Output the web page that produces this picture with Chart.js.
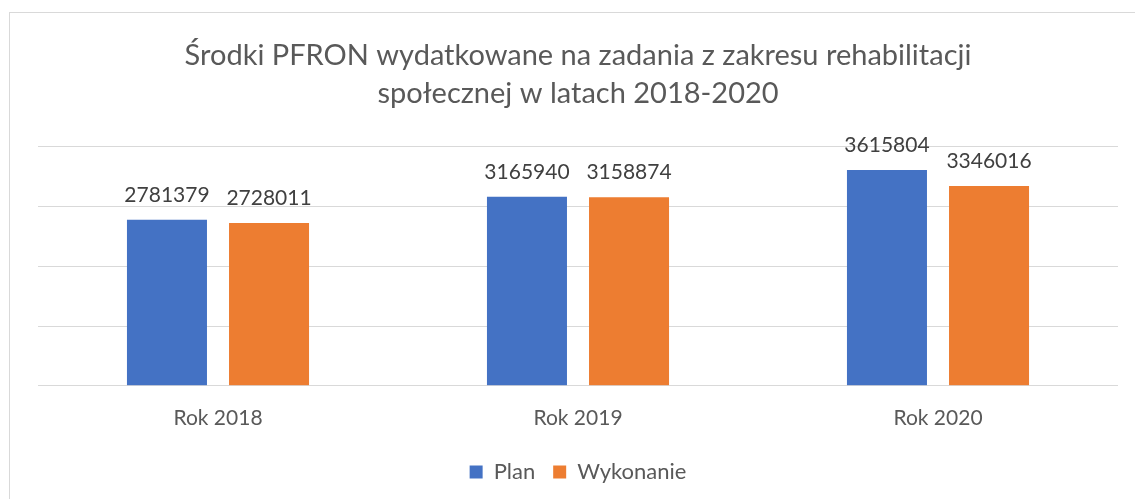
<!DOCTYPE html>
<html>
<head>
<meta charset="utf-8">
<script src="https://cdn.jsdelivr.net/npm/chart.js@4"></script>
<style>
  html, body { margin: 0; padding: 0; background: #fff; }
  #wrap { position: relative; width: 1135px; height: 499px; }
  #frame { position: absolute; left: 9px; top: 12px; width: 1140px; height: 500px; border-left: 1px solid #d9d9d9; border-top: 1px solid #d9d9d9; }
  canvas { position: absolute; left: 0; top: 0; }
</style>
</head>
<body>
<div id="wrap">
  <div id="frame"></div>
  <canvas id="c" width="1135" height="499"></canvas>
</div>
<script>
const titleLines = ['Środki PFRON wydatkowane na zadania z zakresu rehabilitacji', 'społecznej w latach 2018-2020'];
const categories = ['Rok 2018', 'Rok 2019', 'Rok 2020'];
const seriesNames = ['Plan', 'Wykonanie'];
const planValues = [2781379, 3165940, 3615804];
const wykonanieValues = [2728011, 3158874, 3346016];
const seriesColors = ['#4472C4', '#ED7D31'];

const FONT = 'Lato, "Open Sans", sans-serif';

const valueLabels = {
  id: 'valueLabels',
  afterDatasetsDraw(chart) {
    const ctx = chart.ctx;
    ctx.save();
    ctx.font = '21px ' + FONT;
    ctx.fillStyle = '#404040';
    ctx.textAlign = 'center';
    ctx.textBaseline = 'alphabetic';
    chart.data.datasets.forEach((ds, i) => {
      chart.getDatasetMeta(i).data.forEach((bar, j) => {
        ctx.fillText(String(ds.data[j]), bar.x, bar.y - 18);
      });
    });
    ctx.restore();
  }
};

new Chart(document.getElementById('c'), {
  type: 'bar',
  data: {
    labels: categories,
    datasets: [
      { label: seriesNames[0], data: planValues, backgroundColor: seriesColors[0] },
      { label: seriesNames[1], data: wykonanieValues, backgroundColor: seriesColors[1] }
    ]
  },
  options: {
    responsive: false,
    animation: false,
    devicePixelRatio: 1,
    categoryPercentage: 0.567,
    barPercentage: 0.784,
    layout: { padding: { left: 38, right: 17, top: 37, bottom: 6 } },
    plugins: {
      title: {
        display: true,
        text: titleLines,
        color: '#595959',
        font: { family: FONT, size: 29, weight: 'normal', lineHeight: 1.31 },
        padding: { top: 0, bottom: 34 }
      },
      legend: {
        position: 'bottom',
        labels: {
          boxWidth: 13, boxHeight: 13, color: '#595959',
          font: { family: FONT, size: 22 },
          padding: 18
        }
      },
      tooltip: { enabled: false }
    },
    scales: {
      x: {
        grid: { display: false },
        border: { display: false },
        ticks: { color: '#595959', font: { family: FONT, size: 21 }, padding: 12 }
      },
      y: {
        min: 0, max: 4000000,
        ticks: { display: false, stepSize: 1000000 },
        grid: { color: '#d9d9d9', drawTicks: false, lineWidth: 1 },
        border: { display: false }
      }
    }
  },
  plugins: [valueLabels]
});
</script>
</body>
</html>
